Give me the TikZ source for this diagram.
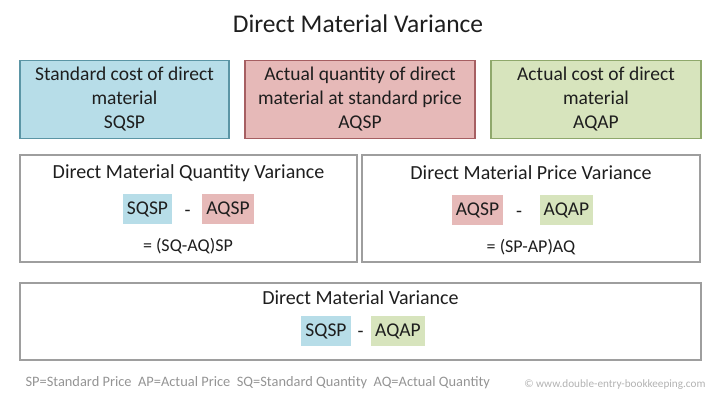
\documentclass[tikz,border=0pt]{standalone}
\usepackage{fontspec}
\setmainfont{Carlito}
\definecolor{sqblue}{HTML}{B7DDE8}
\definecolor{sqblueline}{HTML}{5B95A5}
\definecolor{aqpink}{HTML}{E6B9B8}
\definecolor{aqpinkline}{HTML}{A65F62}
\definecolor{apgreen}{HTML}{D7E4BD}
\definecolor{apgreenline}{HTML}{8FA86C}
\definecolor{inkgray}{HTML}{1E1E1E}
\begin{document}
\begin{tikzpicture}[x=1pt,y=-1pt,
    every node/.style={text=inkgray},
    costbox/.style={draw, line width=1.2pt, minimum width=#1, minimum height=78pt,
        align=center, font=\fontsize{19.5}{24}\selectfont},
    varbox/.style={draw=black!38, line width=1.5pt, minimum width=#1, minimum height=77pt},
    chip/.style={fill=#1, minimum height=30pt, inner xsep=4pt, font=\fontsize{19.5}{22}\selectfont},
    minus/.style={anchor=base, font=\fontsize{19.5}{22}\selectfont},
    vartitle/.style={font=\fontsize{20}{24}\selectfont},
    eqn/.style={font=\fontsize{18}{21}\selectfont}]
    \useasboundingbox (0,0) rectangle (720,404);
    \node (title) at (358,24) {\fontsize{25.5}{30}\selectfont Direct Material Variance};
    % the three costs
    \node[costbox=209pt, fill=sqblue, draw=sqblueline] (sqsp) at (124.5,99.5) {Standard cost of direct\\material\\SQSP};
    \node[costbox=230pt, fill=aqpink, draw=aqpinkline] (aqsp) at (360,99.5) {Actual quantity of direct\\material at standard price\\AQSP};
    \node[costbox=210pt, fill=apgreen, draw=apgreenline] (aqap) at (596,99.5) {Actual cost of direct\\material\\AQAP};
    % quantity and price variance
    \node[varbox=337pt, minimum height=107pt] (qtybox) at (188.5,208.5) {};
    \node[vartitle] (qtytitle) at (188.5,173) {Direct Material Quantity Variance};
    \node[chip=sqblue] (qtysq) at (147.5,209) {SQSP};
    \node[chip=aqpink] (qtyaq) at (228,209) {AQSP};
    \node[minus] (qtyminus) at (187.5,216) {-};
    \node[eqn] (qtyeq) at (188,246) {= (SQ-AQ)SP};
    \node[varbox=338pt, minimum height=107pt] (pricebox) at (531,208.5) {};
    \node[vartitle] (pricetitle) at (531,173) {Direct Material Price Variance};
    \node[chip=aqpink] (priceaq) at (477.5,210) {AQSP};
    \node[chip=apgreen] (priceap) at (566.5,210) {AQAP};
    \node[minus] (priceminus) at (519,217) {-};
    \node[eqn] (priceeq) at (531,247) {= (SP-AP)AQ};
    % total variance
    \node[varbox=681pt] (totalbox) at (360.5,321.5) {};
    \node[vartitle] (totaltitle) at (360.5,298) {Direct Material Variance};
    \node[chip=sqblue] (totalsq) at (326,331) {SQSP};
    \node[chip=apgreen] (totalap) at (398,331) {AQAP};
    \node[minus] (totalminus) at (360.5,337) {-};
    % footer
    \node[anchor=west, text=black!42, font=\fontsize{14.4}{16}\selectfont] (legend) at (22,383)
        {SP=Standard Price\ \ AP=Actual Price\ \ SQ=Standard Quantity\ \ AQ=Actual Quantity};
    \node[anchor=east, text=black!30, font=\fontsize{11.2}{13}\selectfont] (copy) at (709,385)
        {© www.double-entry-bookkeeping.com};
\end{tikzpicture}
\end{document}
